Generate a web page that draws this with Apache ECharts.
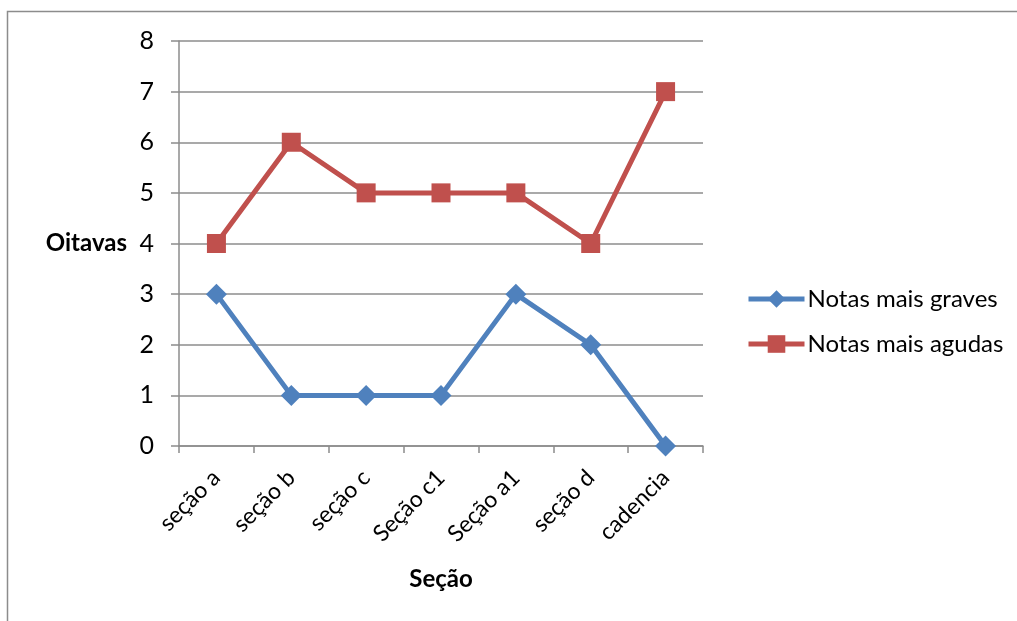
<!DOCTYPE html>
<html><head><meta charset="utf-8">
<script src="https://cdn.jsdelivr.net/npm/echarts@6/dist/echarts.min.js"></script>
<style>html,body{margin:0;padding:0;background:#fff}#c{width:1017px;height:621px}</style>
</head><body><div id="c"></div>
<script>
const categories = ['seção a','seção b','seção c','Seção c1','Seção a1','seção d','cadencia'];
const graves = [3,1,1,1,3,2,0];
const agudas = [4,6,5,5,5,4,7];
const yTicks = [0,1,2,3,4,5,6,7,8];
const FONT = 'Lato, "Open Sans", sans-serif';
const chart = echarts.init(document.getElementById('c'));
chart.setOption({
  animation:false,
  backgroundColor:'#fff',
  graphic:[{type:'rect',shape:{x:7.5,y:11.5,width:1100,height:800},style:{fill:'none',stroke:'#8c8c8c',lineWidth:1.5},silent:true}],
  grid:{left:179,top:41,width:524,height:405},
  legend:{
    orient:'vertical',left:741,top:282,itemWidth:56,itemHeight:22,itemGap:21,
    textStyle:{fontFamily:FONT,fontSize:24,color:'#000',padding:[0,0,0,-2]},
    data:[
      {name:'Notas mais graves',lineStyle:{width:5,color:'#4F81BD'}},
      {name:'Notas mais agudas',lineStyle:{width:5,color:'#C0504D'}}
    ]
  },
  xAxis:{
    type:'category',data:categories,boundaryGap:true,
    name:'Seção',nameLocation:'middle',nameGap:121,
    nameTextStyle:{fontFamily:FONT,fontSize:24,fontWeight:'bold',color:'#000'},
    axisLine:{lineStyle:{color:'#8c8c8c',width:1.5}},
    axisTick:{show:true,length:7,alignWithLabel:false,lineStyle:{color:'#8c8c8c',width:1.5}},
    axisLabel:{interval:0,rotate:45,margin:28,fontFamily:FONT,fontSize:23,color:'#000'}
  },
  yAxis:{
    type:'value',min:yTicks[0],max:yTicks[yTicks.length-1],interval:1,
    name:'Oitavas',nameLocation:'middle',nameRotate:0,nameGap:52,
    nameTextStyle:{fontFamily:FONT,fontSize:24,fontWeight:'bold',color:'#000'},
    axisLine:{show:true,lineStyle:{color:'#8c8c8c',width:1.5}},
    axisTick:{show:true,length:8,lineStyle:{color:'#8c8c8c',width:1.5}},
    splitLine:{lineStyle:{color:'#8c8c8c',width:1.5}},
    axisLabel:{margin:25,fontFamily:FONT,fontSize:25,color:'#000'}
  },
  series:[
    {name:'Notas mais graves',type:'line',data:graves,symbol:'diamond',symbolSize:21,
     lineStyle:{color:'#4F81BD',width:5},itemStyle:{color:'#4F81BD'}},
    {name:'Notas mais agudas',type:'line',data:agudas,symbol:'rect',symbolSize:19,
     lineStyle:{color:'#C0504D',width:5},itemStyle:{color:'#C0504D'}}
  ]
});
</script></body></html>
